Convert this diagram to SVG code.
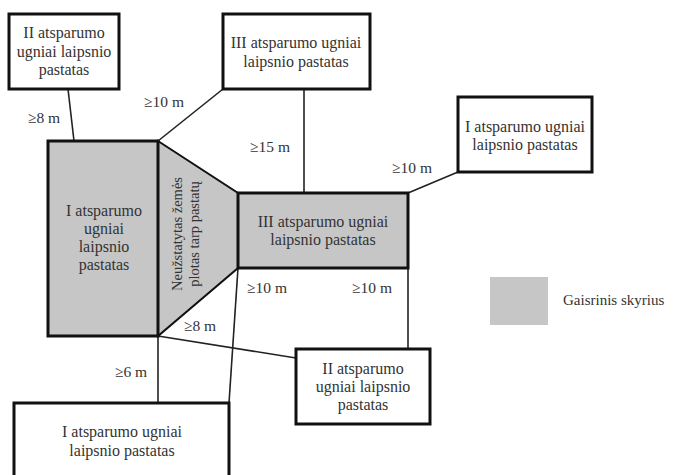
<svg xmlns="http://www.w3.org/2000/svg" width="674" height="475" viewBox="0 0 674 475">
<style>
.box{fill:#fff;stroke:#111;stroke-width:3}
.gray{fill:#c6c6c6;stroke:#111;stroke-width:3}
.trap{fill:#c6c6c6;stroke:#111;stroke-width:2}
.ln{stroke:#222;stroke-width:1.6;fill:none}
text{font-family:"Liberation Serif","Times New Roman",serif;font-size:16px;fill:#333;text-anchor:middle}
.lbl{font-size:15.5px}
.rot{font-size:14.5px}
</style>
<rect width="674" height="475" fill="#fff"/>
<g id="connectors">
<line class="ln" x1="68" y1="89" x2="74" y2="141"/>
<line class="ln" x1="158" y1="141" x2="223" y2="89"/>
<line class="ln" x1="304" y1="89" x2="304" y2="193"/>
<line class="ln" x1="408" y1="193" x2="458" y2="172"/>
<line class="ln" x1="408" y1="268" x2="408" y2="349"/>
<line class="ln" x1="238" y1="268" x2="229" y2="403"/>
<line class="ln" x1="158" y1="336" x2="296" y2="358"/>
<line class="ln" x1="158" y1="336" x2="158" y2="403"/>
</g>
<g id="trapezoid">
<polygon class="trap" points="158,141 238,193 238,268 158,336"/>
<text class="rot" transform="translate(177,234) rotate(-90)" dy="5">Neužstatytas žemės</text>
<text class="rot" transform="translate(194,234) rotate(-90)" dy="5">plotas tarp pastatų</text>
</g>
<g id="main-I">
<rect class="gray" x="48" y="141" width="110" height="195"/>
<text x="104" y="216">I atsparumo</text>
<text x="104" y="234">ugniai</text>
<text x="104" y="252">laipsnio</text>
<text x="104" y="270">pastatas</text>
</g>
<g id="main-III">
<rect class="gray" x="238" y="193" width="170" height="75"/>
<text x="323" y="227">III atsparumo ugniai</text>
<text x="323" y="245">laipsnio pastatas</text>
</g>
<g id="box-II-topleft">
<rect class="box" x="9" y="14" width="110" height="75"/>
<text x="64" y="38">II atsparumo</text>
<text x="64" y="57">ugniai laipsnio</text>
<text x="64" y="75">pastatas</text>
</g>
<g id="box-III-top">
<rect class="box" x="223" y="14" width="147" height="75"/>
<text x="296" y="48">III atsparumo ugniai</text>
<text x="296" y="67">laipsnio pastatas</text>
</g>
<g id="box-I-right">
<rect class="box" x="458" y="97" width="134" height="75"/>
<text x="525" y="132">I atsparumo ugniai</text>
<text x="525" y="150">laipsnio pastatas</text>
</g>
<g id="box-II-bottom">
<rect class="box" x="296" y="349" width="134" height="75"/>
<text x="363" y="374">II atsparumo</text>
<text x="363" y="392">ugniai laipsnio</text>
<text x="363" y="410">pastatas</text>
</g>
<g id="box-I-bottom">
<rect class="box" x="14" y="403" width="215" height="80"/>
<text x="122" y="437">I atsparumo ugniai</text>
<text x="122" y="456">laipsnio pastatas</text>
</g>
<g id="labels">
<text class="lbl" x="44" y="123">≥8 m</text>
<text class="lbl" x="164" y="107">≥10 m</text>
<text class="lbl" x="270" y="152">≥15 m</text>
<text class="lbl" x="412" y="173">≥10 m</text>
<text class="lbl" x="267" y="293">≥10 m</text>
<text class="lbl" x="372" y="293">≥10 m</text>
<text class="lbl" x="200" y="331">≥8 m</text>
<text class="lbl" x="131" y="377">≥6 m</text>
</g>
<g id="legend">
<rect x="490" y="277" width="58" height="48" fill="#c6c6c6"/>
<text x="563" y="305" style="text-anchor:start;font-size:15px">Gaisrinis skyrius</text>
</g>
</svg>
